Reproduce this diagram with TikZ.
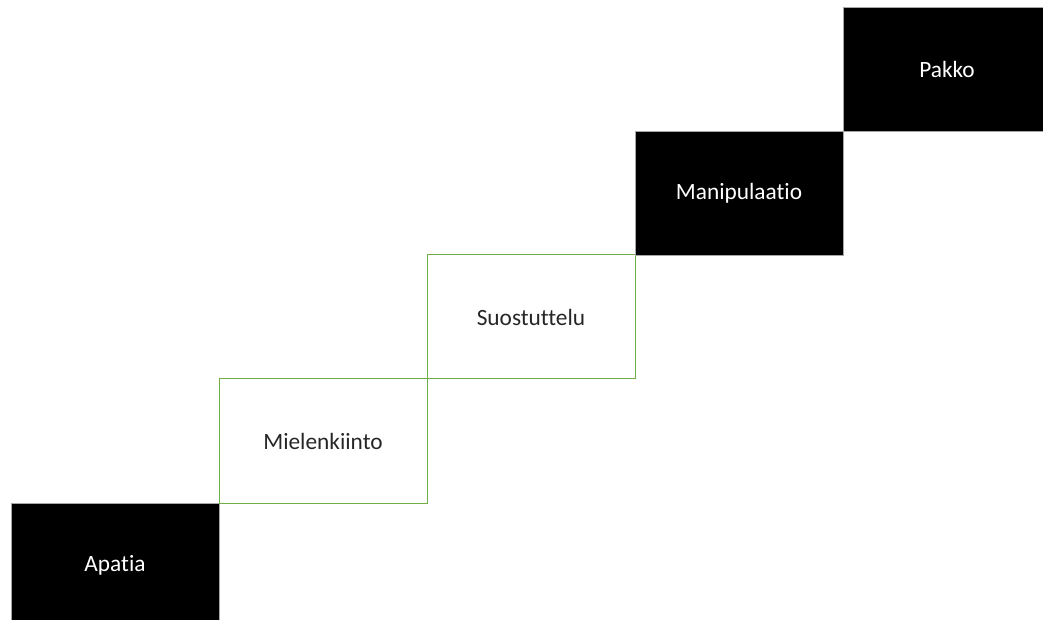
\documentclass[tikz,border=0pt]{standalone}
\usepackage{fontspec}
\setmainfont[Ligatures=NoCommon]{Carlito}
\usetikzlibrary{positioning}
\definecolor{stepgreen}{RGB}{112,173,71}

\begin{document}
\begin{tikzpicture}[x=0.75pt,y=-0.75pt]
  \tikzset{stair/.style={rectangle, inner sep=0, outer sep=0,
      minimum width=156pt, minimum height=93pt, font=\fontsize{17.5}{20}\selectfont},
    darkstair/.style={stair, fill=black, draw=gray!70, line width=0.6pt, text=white},
    lightstair/.style={stair, draw=stepgreen, line width=0.75pt, text=black!85}}
  \useasboundingbox (0,0) rectangle (1043,620);
  \clip (0,0) rectangle (1043,620);
  \node[darkstair, anchor=north west] (apatia) at (11,503) {Apatia};
  \node[lightstair, anchor=south west] (mielenkiinto) at (apatia.north east) {Mielenkiinto};
  \node[lightstair, anchor=south west] (suostuttelu) at (mielenkiinto.north east) {Suostuttelu};
  \node[darkstair, anchor=south west] (manipulaatio) at (suostuttelu.north east) {Manipulaatio};
  \node[darkstair, anchor=south west] (pakko) at (manipulaatio.north east) {Pakko};
\end{tikzpicture}
\end{document}
